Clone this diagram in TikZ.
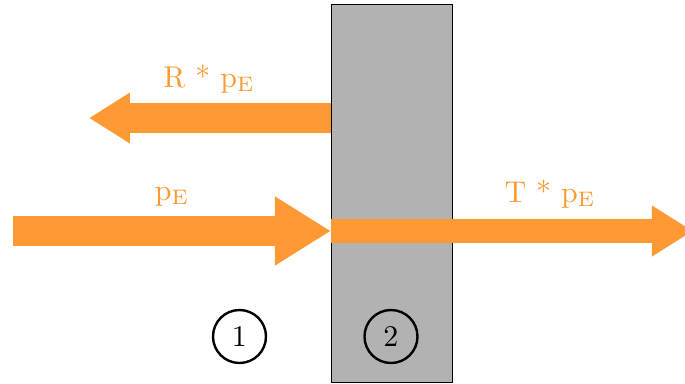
\documentclass[tikz,border=0pt]{standalone}
\usetikzlibrary{arrows.meta}
\definecolor{arr}{RGB}{255,153,51}
\begin{document}
\begin{tikzpicture}[x=0.3333pt,y=-0.3333pt,
  wave/.style={draw=arr,line width=#1*0.3333pt},
  lbl/.style={text=arr,anchor=base,inner sep=0pt},
  zone/.style={circle,draw,thick,minimum size=53*0.3333pt,inner sep=0pt}]
\useasboundingbox (0,0) rectangle (685,383);
\node[draw,fill=gray!60,line width=0.4pt,minimum width=121*0.3333pt,minimum height=378*0.3333pt,inner sep=0pt,anchor=north west] (slab) at (331,4) {};
\coordinate (inS) at (13,231);
\coordinate (inE) at (331,231);
\coordinate (reS) at (331,118);
\coordinate (reE) at (89,118);
\coordinate (trS) at (331,231);
\coordinate (trE) at (693,231);
\draw[wave=30,-{Triangle[length=56*0.3333pt,width=65*0.3333pt]}] (inS) -- (inE);
\draw[wave=30,-{Triangle[length=41*0.3333pt,width=48*0.3333pt]}] (reS) -- (reE);
\draw[wave=24,-{Triangle[length=41*0.3333pt,width=48*0.3333pt]}] (trS) -- (trE);
\node[lbl] (lr) at (209,87) {R * p\textsubscript{E}};
\node[lbl] (li) at (172,200) {p\textsubscript{E}};
\node[lbl] (lt) at (550,202) {T * p\textsubscript{E}};
\node[zone] (z1) at (239.5,336.5) {1};
\node[zone] (z2) at (391,336.5) {2};
\end{tikzpicture}
\end{document}
